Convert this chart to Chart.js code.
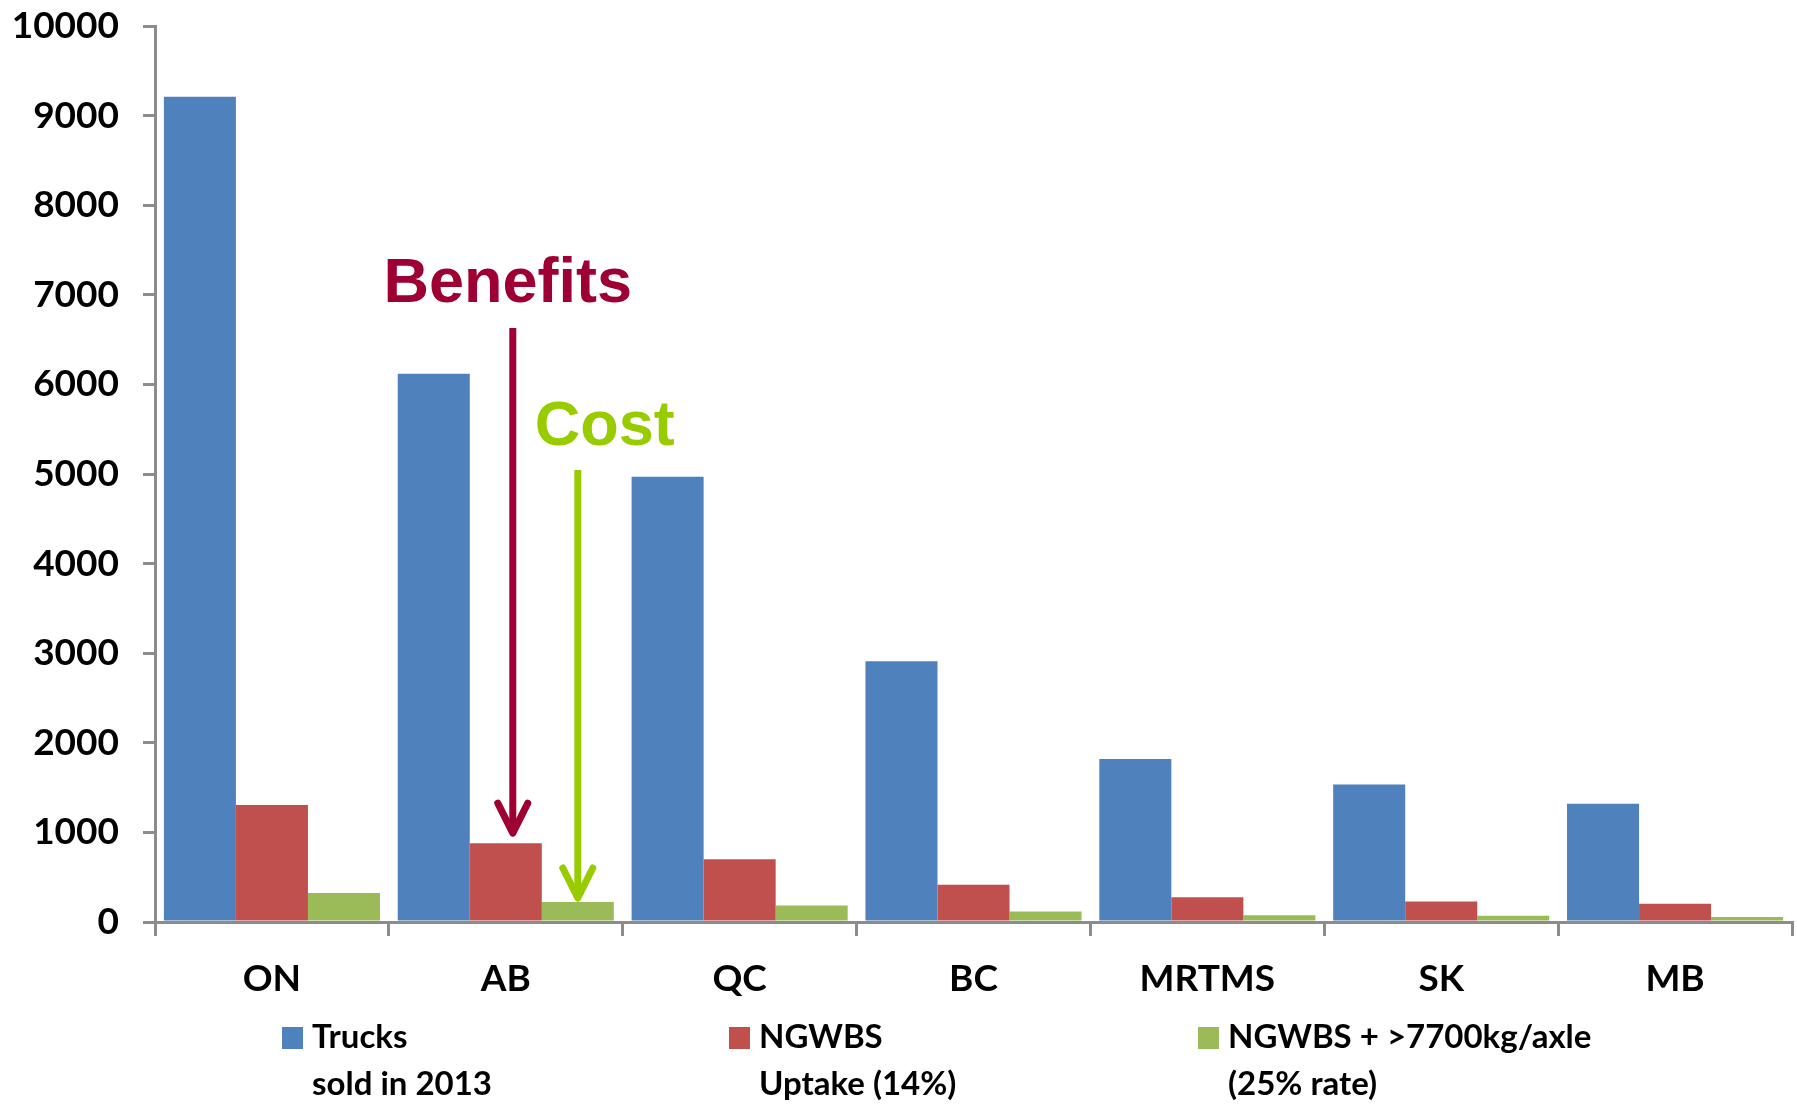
<!DOCTYPE html>
<html>
<head>
<meta charset="utf-8">
<script src="https://cdn.jsdelivr.net/npm/chart.js@4"></script>
<style>
  html, body { margin: 0; padding: 0; background: #ffffff; }
  #wrap { position: relative; width: 1797px; height: 1110px; }
</style>
</head>
<body>
<div id="wrap"><canvas id="c" width="1797" height="1110"></canvas></div>
<script>
// ---- data ----
const categories = ['ON', 'AB', 'QC', 'BC', 'MRTMS', 'SK', 'MB'];
const trucksSold2013 = [9210, 6120, 4970, 2910, 1820, 1535, 1320];
const ngwbsUptake = [1305, 880, 700, 417, 275, 230, 205];
const ngwbsHeavyAxle = [325, 223, 185, 118, 75, 70, 55];
const seriesLabels = [
  ['Trucks', 'sold in 2013'],
  ['NGWBS', 'Uptake (14%)'],
  ['NGWBS + >7700kg/axle', '(25% rate)']
];
const seriesColors = ['#4F81BD', '#C0504D', '#9BBB59'];
const yMin = 0, yMax = 10000, yStep = 1000;

// annotation anchors (data space)
const benefitsText = 'Benefits';
const costText = 'Cost';
const benefitsTextValue = 6920;
const benefitsArrowStartValue = 6630;
const costTextValue = 5324;
const costArrowStartValue = 5045;
const annotatedCategory = 1; // AB

const axisGray = '#8C8C8C';
const tickFont = { family: 'Lato', size: 37, weight: '700' };

const legendPlugin = {
  id: 'multiLineLegend',
  afterDraw(chart) {
    const ctx = chart.ctx;
    const xs = [282, 729, 1198];
    ctx.save();
    ctx.font = '700 33px Lato';
    ctx.fillStyle = '#000';
    ctx.textBaseline = 'alphabetic';
    ctx.textAlign = 'left';
    chart.data.datasets.forEach((ds, i) => {
      const x = xs[i];
      ctx.fillStyle = ds.backgroundColor;
      ctx.fillRect(x, 1027, 21, 22);
      ctx.fillStyle = '#000';
      ds.label.forEach((line, j) => {
        ctx.fillText(line, x + 30, 1048 + j * 47);
      });
    });
    ctx.restore();
  }
};

const annotationPlugin = {
  id: 'arrows',
  afterDatasetsDraw(chart) {
    const ctx = chart.ctx;
    const y = chart.scales.y;
    const redBar = chart.getDatasetMeta(1).data[annotatedCategory];
    const greenBar = chart.getDatasetMeta(2).data[annotatedCategory];

    function arrow(x, y0, y1, color) {
      ctx.save();
      ctx.strokeStyle = color;
      ctx.lineWidth = 7;
      ctx.lineCap = 'butt';
      ctx.beginPath();
      ctx.moveTo(x, y0);
      ctx.lineTo(x, y1 - 3);
      ctx.stroke();
      ctx.lineCap = 'round';
      ctx.lineJoin = 'round';
      ctx.beginPath();
      ctx.moveTo(x - 15, y1 - 30);
      ctx.lineTo(x, y1);
      ctx.lineTo(x + 15, y1 - 30);
      ctx.stroke();
      ctx.restore();
    }

    ctx.save();
    ctx.font = 'bold 63px "Liberation Sans", Arial, sans-serif';
    ctx.textAlign = 'center';
    ctx.textBaseline = 'alphabetic';
    ctx.fillStyle = '#9E0033';
    ctx.fillText(benefitsText, redBar.x + 2, y.getPixelForValue(benefitsTextValue));
    ctx.fillStyle = '#99CC00';
    ctx.fillText(costText, greenBar.x + 27, y.getPixelForValue(costTextValue));
    ctx.restore();

    arrow(redBar.x + 7, y.getPixelForValue(benefitsArrowStartValue), redBar.y - 10, '#9E0033');
    arrow(greenBar.x, y.getPixelForValue(costArrowStartValue), greenBar.y - 4, '#99CC00');
  }
};

new Chart(document.getElementById('c'), {
  type: 'bar',
  data: {
    labels: categories,
    datasets: [
      { label: seriesLabels[0], data: trucksSold2013, backgroundColor: seriesColors[0] },
      { label: seriesLabels[1], data: ngwbsUptake, backgroundColor: seriesColors[1] },
      { label: seriesLabels[2], data: ngwbsHeavyAxle, backgroundColor: seriesColors[2] }
    ]
  },
  options: {
    responsive: false,
    animation: false,
    devicePixelRatio: 1,
    categoryPercentage: 0.924,
    barPercentage: 1.0,
    layout: { padding: { top: 26, right: 5, bottom: 0, left: 0 } },
    plugins: {
      legend: { display: false },
      tooltip: { enabled: false },
      title: { display: false }
    },
    scales: {
      x: {
        grid: {
          display: true,
          drawOnChartArea: false,
          drawTicks: true,
          tickLength: 14,
          color: axisGray,
          lineWidth: 3,
          offset: true
        },
        border: { display: true, color: axisGray, width: 3 },
        ticks: { color: '#000', font: tickFont, padding: 21, maxRotation: 0, autoSkip: false },
        afterFit(scale) { scale.height = 188; scale.paddingLeft = 0; scale.paddingRight = 0; }
      },
      y: {
        min: yMin,
        max: yMax,
        grid: {
          display: true,
          drawOnChartArea: false,
          drawTicks: true,
          tickLength: 12,
          color: axisGray,
          lineWidth: 3
        },
        border: { display: true, color: axisGray, width: 3 },
        ticks: { stepSize: yStep, color: '#000', font: tickFont, padding: 24, callback: (v) => String(v) },
        afterFit(scale) { scale.width = 155; scale.paddingTop = 0; scale.paddingBottom = 0; }
      }
    }
  },
  plugins: [legendPlugin, annotationPlugin]
});
</script>
</body>
</html>
